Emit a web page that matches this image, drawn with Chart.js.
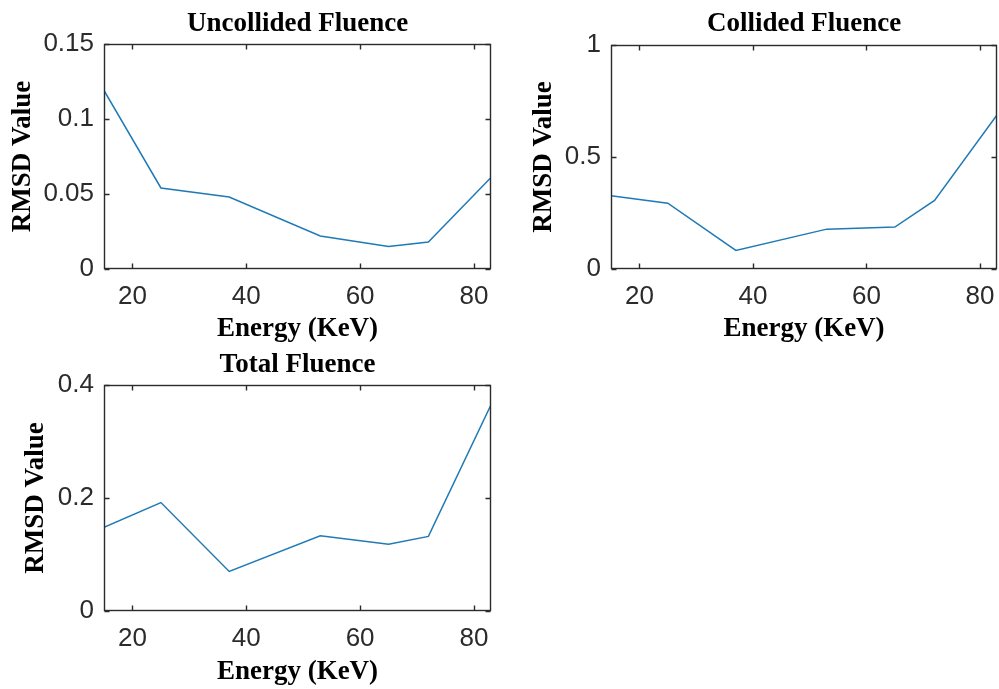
<!DOCTYPE html>
<html>
<head>
<meta charset="utf-8">
<script src="https://cdn.jsdelivr.net/npm/chart.js@4.4.1/dist/chart.umd.min.js"></script>
<style>
  body { margin: 0; background: #fff; }
  #wrap { position: relative; width: 999px; height: 689px; overflow: hidden; }
  canvas { position: absolute; }
</style>
</head>
<body>
<div id="wrap">
  <canvas id="c1" width="500" height="346" style="left:0;top:0"></canvas>
  <canvas id="c2" width="492" height="346" style="left:507px;top:0"></canvas>
  <canvas id="c3" width="500" height="349" style="left:0;top:340px"></canvas>
</div>
<script>
// ========== DATA ========== //
const energy = [15, 25, 37, 53, 65, 72, 83];
const uncollided = [0.119, 0.054, 0.048, 0.022, 0.015, 0.018, 0.061];
const collided = [0.327, 0.294, 0.083, 0.178, 0.187, 0.306, 0.688];
const total = [0.148, 0.192, 0.070, 0.133, 0.118, 0.132, 0.365];

const xTicks = [20, 40, 60, 80];
const xTickLabels = ["20", "40", "60", "80"];
const uncollidedTicks = [0, 0.05, 0.1, 0.15];
const uncollidedTickLabels = ["0", "0.05", "0.1", "0.15"];
const collidedTicks = [0, 0.5, 1];
const collidedTickLabels = ["0", "0.5", "1"];
const totalTicks = [0, 0.2, 0.4];
const totalTickLabels = ["0", "0.2", "0.4"];

// ========== STYLE ========== //
const SANS = "'Liberation Sans', Arial, sans-serif";
const SERIF = "'Liberation Serif', 'Times New Roman', serif";
const AXIS = "#2b2b2b";
const LINE = "#1f7ab5";

// matlab style box with ticks pointing inward
const boxPlugin = {
  id: "matlabBox",
  afterDraw(chart) {
    const { ctx, chartArea: a, scales } = chart;
    const L = Math.round(a.left) + 0.5, R = Math.round(a.right) - 0.5;
    const T = Math.round(a.top) + 0.5, B = Math.round(a.bottom) - 0.5;
    const len = 5;
    ctx.save();
    ctx.strokeStyle = AXIS;
    ctx.lineWidth = 1.4;
    ctx.strokeRect(L, T, R - L, B - T);
    ctx.beginPath();
    scales.x.ticks.forEach(t => {
      const px = Math.round(scales.x.getPixelForValue(t.value)) + 0.5;
      ctx.moveTo(px, B); ctx.lineTo(px, B - len);
      ctx.moveTo(px, T); ctx.lineTo(px, T + len);
    });
    scales.y.ticks.forEach(t => {
      const py = Math.round(scales.y.getPixelForValue(t.value)) + 0.5;
      ctx.moveTo(L, py); ctx.lineTo(L + len, py);
      ctx.moveTo(R, py); ctx.lineTo(R - len, py);
    });
    ctx.stroke();
    ctx.restore();
  }
};

function makeChart(id, o) {
  return new Chart(document.getElementById(id), {
    type: "line",
    data: {
      datasets: [{
        data: energy.map((e, i) => ({ x: e, y: o.values[i] })),
        borderColor: LINE,
        borderWidth: 1.5,
        pointRadius: 0,
        fill: false,
        tension: 0
      }]
    },
    options: {
      responsive: false,
      animation: false,
      layout: { padding: { left: 0, top: 0, right: o.padRight, bottom: 0 } },
      plugins: {
        legend: { display: false },
        tooltip: { enabled: false },
        title: {
          display: true,
          fullSize: false,
          text: o.title,
          color: "#000",
          font: { family: SERIF, size: 27, weight: "bold" },
          padding: { top: o.titleTop, bottom: o.titleBottom }
        }
      },
      scales: {
        x: {
          type: "linear",
          min: 15,
          max: 83,
          grid: { display: false, drawTicks: false },
          border: { display: false },
          afterBuildTicks: s => { s.ticks = xTicks.map(v => ({ value: v })); },
          afterFit: s => { s.height = o.xHeight; s.paddingLeft = 0; s.paddingRight = 0; },
          ticks: {
            padding: 12,
            color: AXIS,
            autoSkip: false,
            maxRotation: 0,
            font: { family: SANS, size: 26 },
            callback: (v, i) => xTickLabels[i]
          },
          title: {
            display: true,
            text: "Energy (KeV)",
            color: "#000",
            font: { family: SERIF, size: 27, weight: "bold" },
            padding: { top: 0, bottom: o.xTitleBottom }
          }
        },
        y: {
          min: o.ticks[0],
          max: o.ticks[o.ticks.length - 1],
          grid: { display: false, drawTicks: false },
          border: { display: false },
          afterBuildTicks: s => { s.ticks = o.ticks.map(v => ({ value: v })); },
          afterFit: s => { s.width = 104; s.paddingTop = 0; s.paddingBottom = 0; },
          ticks: {
            padding: 10,
            color: AXIS,
            autoSkip: false,
            font: { family: SANS, size: 26 },
            callback: (v, i) => o.tickLabels[i]
          },
          title: {
            display: true,
            text: "RMSD Value",
            color: "#000",
            font: { family: SERIF, size: 27, weight: "bold" },
            padding: { top: o.yTitleTop, bottom: 0 }
          }
        }
      }
    },
    plugins: [boxPlugin]
  });
}

makeChart("c1", {
  title: "Uncollided Fluence", values: uncollided,
  ticks: uncollidedTicks, tickLabels: uncollidedTickLabels,
  padRight: 9, titleTop: 7.8, titleBottom: 3.8, xHeight: 77, xTitleBottom: 0.8, yTitleTop: 6.8
});
makeChart("c2", {
  title: "Collided Fluence", values: collided,
  ticks: collidedTicks, tickLabels: collidedTickLabels,
  padRight: 2, titleTop: 7.8, titleBottom: 4.8, xHeight: 77, xTitleBottom: 0.8, yTitleTop: 20.8
});
makeChart("c3", {
  title: "Total Fluence", values: total,
  ticks: totalTicks, tickLabels: totalTickLabels,
  padRight: 9, titleTop: 8.8, titleBottom: 3.8, xHeight: 78, xTitleBottom: 0.3, yTitleTop: 19.8
});
</script>
</body>
</html>
